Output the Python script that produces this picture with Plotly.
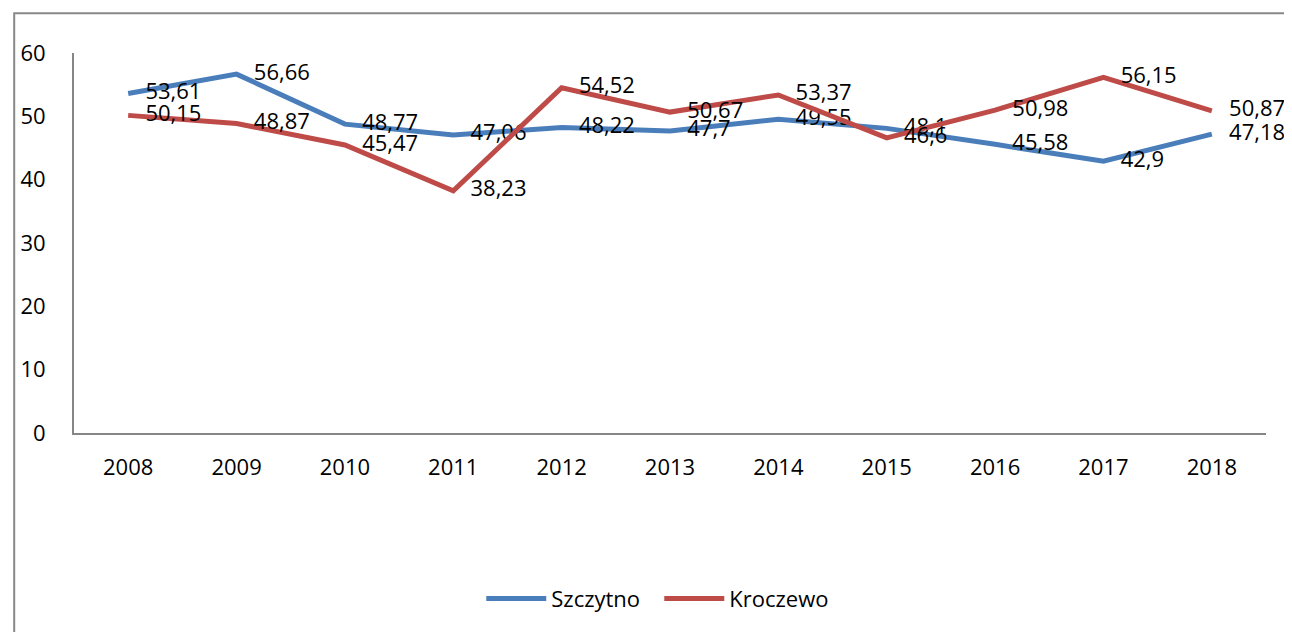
import plotly.graph_objects as go

years = ["2008", "2009", "2010", "2011", "2012", "2013", "2014", "2015", "2016", "2017", "2018"]
szczytno = [53.61, 56.66, 48.77, 47.06, 48.22, 47.7, 49.55, 48.1, 45.58, 42.9, 47.18]
kroczewo = [50.15, 48.87, 45.47, 38.23, 54.52, 50.67, 53.37, 46.6, 50.98, 56.15, 50.87]
y_ticks = [0, 10, 20, 30, 40, 50, 60]

BLUE = "#4A7EBB"
RED = "#BE4B48"
FONT = "Open Sans"
FS = 22

def fmt(v):
    return ("%g" % v).replace(".", ",")

fig = go.Figure()
for name, vals, col in (("Szczytno", szczytno, BLUE), ("Kroczewo", kroczewo, RED)):
    fig.add_trace(go.Scatter(
        x=years, y=vals, name=name, mode="lines+markers+text",
        line=dict(color=col, width=5),
        marker=dict(size=26, color="rgba(0,0,0,0)", line=dict(width=0)),
        text=[fmt(v) for v in vals], textposition="middle right",
        textfont=dict(family=FONT, size=FS, color="#000000"),
        cliponaxis=False,
    ))

OFF = 8  # page body margin
W, H = 1292 - OFF, 632 - OFF
L, R, T, B = 70 - OFF, 26, 53 - OFF, 196
pw = W - L - R
ph = H - T - B

fig.update_layout(
    width=W, height=H,
    margin=dict(l=L, r=R, t=T, b=B),
    paper_bgcolor="white", plot_bgcolor="white",
    font=dict(family=FONT, size=FS, color="#000000"),
    showlegend=True,
    legend=dict(orientation="h", x=0.491, xanchor="center", y=(436 - 603) / ph, yanchor="middle",
                font=dict(family=FONT, size=FS), itemwidth=60, entrywidth=103, tracegroupgap=0),
    shapes=[dict(type="rect", xref="paper", yref="paper",
                 x0=(10 - 70) / pw, x1=(1400 - 70) / pw,
                 y0=(436 - 700) / ph, y1=(436 - 13) / ph,
                 line=dict(color="#888888", width=2), layer="below")],
)
fig.update_xaxes(type="category", range=[-0.5, 10.5], showgrid=False, showline=True,
                 linecolor="#868686", linewidth=2, ticks="", ticklabelstandoff=14,
                 zeroline=False, tickfont=dict(family=FONT, size=FS))
fig.update_yaxes(range=[0, 60], tickvals=y_ticks, showgrid=False, showline=True,
                 linecolor="#868686", linewidth=2, ticks="", ticklabelstandoff=22,
                 zeroline=False, tickfont=dict(family=FONT, size=FS))

fig.write_html("out.html")
